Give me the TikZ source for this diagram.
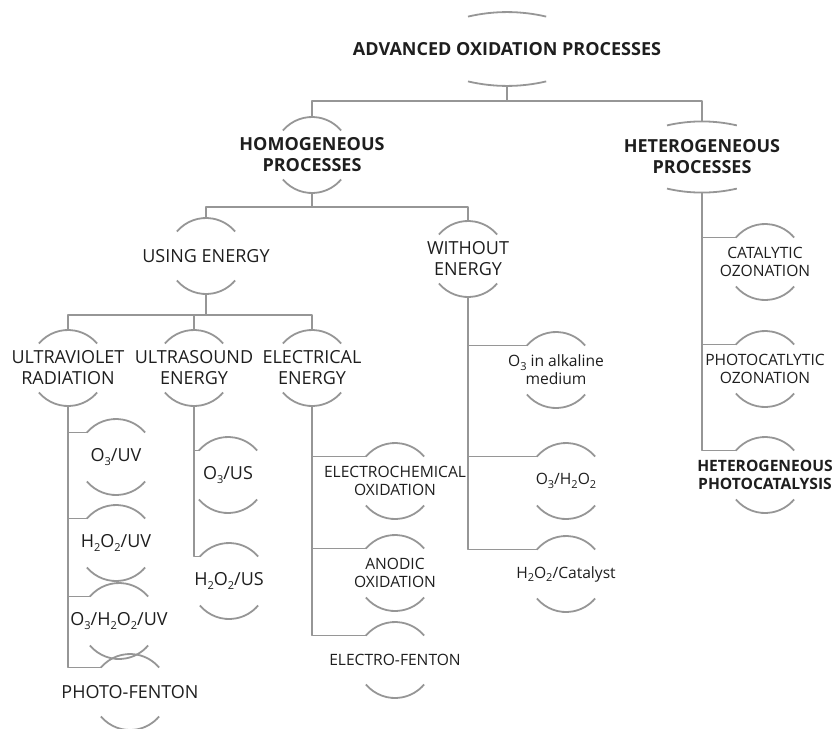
\documentclass[tikz,border=0pt]{standalone}
\usepackage{fontspec}
\setmainfont{Open Sans}
\definecolor{linegray}{RGB}{150,150,150}
\definecolor{txt}{RGB}{30,30,30}
\newcommand{\chsub}[1]{\raisebox{-0.45ex}{\fontsize{5.5}{6}\selectfont #1}}
\tikzset{
  lbl/.style={align=center, inner sep=0pt, text=txt, font=\fontsize{9}{10.5}\selectfont},
  sml/.style={lbl, font=\fontsize{7.8}{9}\selectfont},
  bld/.style={lbl, font=\fontsize{9}{10.5}\selectfont\bfseries},
  link/.style={draw=linegray, line width=0.9pt},
}
\begin{document}
\begin{tikzpicture}[x=0.5pt, y=-0.5pt, line join=round]
\useasboundingbox (0,0) rectangle (833,728);
% levels
\node[bld] (root) at (507,49) {ADVANCED OXIDATION PROCESSES};
\node[bld] (homo) at (312,155) {HOMOGENEOUS\\PROCESSES};
\node[bld] (hetero) at (702,157) {HETEROGENEOUS\\PROCESSES};
\node[lbl] (using) at (206,256) {USING ENERGY};
\node[lbl] (without) at (468,259) {WITHOUT\\ENERGY};
\node[lbl] (uv) at (68,368) {ULTRAVIOLET\\RADIATION};
\node[lbl] (us) at (194,368) {ULTRASOUND\\ENERGY};
\node[lbl] (elec) at (312,368) {ELECTRICAL\\ENERGY};
% leaves
\node[lbl] (o3uv) at (116,457) {O\chsub{3}/UV};
\node[lbl] (h2o2uv) at (116,543) {H\chsub{2}O\chsub{2}/UV};
\node[lbl] (o3h2o2uv) at (119,621) {O\chsub{3}/H\chsub{2}O\chsub{2}/UV};
\node[lbl] (photofenton) at (130,692) {PHOTO-FENTON};
\node[lbl] (o3us) at (228,475) {O\chsub{3}/US};
\node[lbl] (h2o2us) at (229,581) {H\chsub{2}O\chsub{2}/US};
\node[sml] (electrochem) at (395,481) {ELECTROCHEMICAL\\OXIDATION};
\node[sml] (anodic) at (395,573) {ANODIC\\OXIDATION};
\node[sml] (electrofenton) at (395,660) {ELECTRO-FENTON};
\node[sml] (alkaline) at (556,370) {O\chsub{3} in alkaline\\medium};
\node[sml] (o3h2o2) at (566,481) {O\chsub{3}/H\chsub{2}O\chsub{2}};
\node[sml] (h2o2cat) at (566,574) {H\chsub{2}O\chsub{2}/Catalyst};
\node[sml] (catoz) at (765,262) {CATALYTIC\\OZONATION};
\node[sml] (photoz) at (765,369) {PHOTOCATLYTIC\\OZONATION};
\node[sml, font=\fontsize{7.8}{8.6}\selectfont\bfseries] (hetphoto) at (765,475) {HETEROGENEOUS\\PHOTOCATALYSIS};
% round arcs above and below
\foreach \n in {homo,using,without,uv,us,elec,o3uv,h2o2uv,o3h2o2uv,photofenton,o3us,h2o2us,
                electrochem,anodic,electrofenton,alkaline,o3h2o2,h2o2cat,catoz,photoz,hetphoto}{
  \draw[link] ([shift={(140:19pt)}]\n.center) arc[start angle=140, end angle=40, radius=19pt];
  \draw[link] ([shift={(220:19pt)}]\n.center) arc[start angle=220, end angle=320, radius=19pt];
  \coordinate (\n-t) at ([yshift=19pt]\n.center);
  \coordinate (\n-b) at ([yshift=-19pt]\n.center);
  \coordinate (\n-l) at ([shift={(140:19pt)}]\n.center);
}
% flat arcs
\foreach \n/\h/\e/\a/\R/\p in {root/19.5pt/16.2pt/13.2/85.6pt/18.5pt, hetero/17.5pt/15.8pt/13/77.6pt/17.75pt}{
  \draw[link] ([shift={(-\h,\e)}]\n.center) arc[start angle=90+\a, end angle=90-\a, radius=\R];
  \draw[link] ([shift={(-\h,-\e)}]\n.center) arc[start angle=270-\a, end angle=270+\a, radius=\R];
  \coordinate (\n-t) at ([yshift=\p]\n.center);
  \coordinate (\n-b) at ([yshift=-\p]\n.center);
}
% junctions
\coordinate (rootj) at ([yshift=-7.5pt]root-b);
\coordinate (homoj) at ([yshift=-7pt]homo-b);
\coordinate (usingj) at ([yshift=-10.5pt]using-b);
\draw[link] (root-b) -- (rootj);
\draw[link] (homo-t) |- (rootj) -| (hetero-t);
\draw[link] (homo-b) -- (homoj);
\draw[link] (using-t) |- (homoj) -| (without-t);
\draw[link] (using-b) -- (usingj);
\draw[link] (uv-t) |- (usingj) -| (elec-t);
\draw[link] (us-t) |- (usingj);
% spines
\foreach \p/\c in {uv/o3uv, uv/h2o2uv, uv/o3h2o2uv, uv/photofenton, us/o3us, us/h2o2us,
                   elec/electrochem, elec/anodic, elec/electrofenton,
                   without/alkaline, without/o3h2o2, without/h2o2cat,
                   hetero/catoz, hetero/photoz, hetero/hetphoto}
  \draw[link] (\p-b) |- (\c-l);
\end{tikzpicture}
\end{document}
